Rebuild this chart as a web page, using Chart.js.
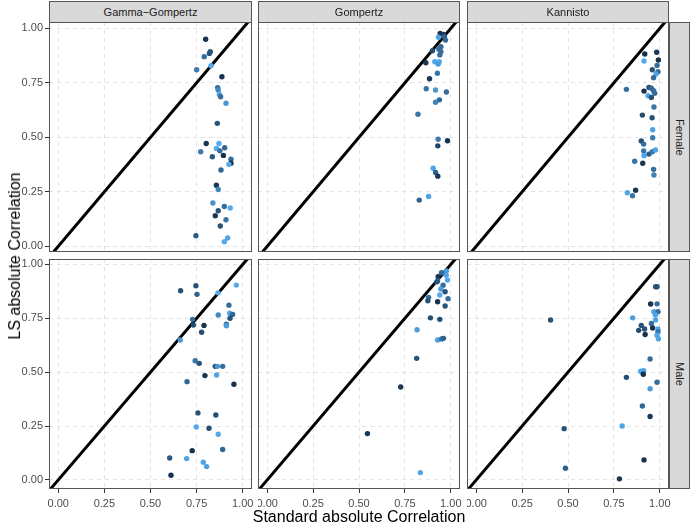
<!DOCTYPE html>
<html>
<head>
<meta charset="utf-8">
<script src="https://cdn.jsdelivr.net/npm/chart.js@4/dist/chart.umd.min.js"></script>
<style>
  html, body { margin: 0; padding: 0; background: #fff; }
  #wrap { position: relative; width: 690px; height: 528px; overflow: hidden;
          font-family: "Liberation Sans", Arial, sans-serif; }
  canvas { position: absolute; }
  .strip { position: absolute; background: #d9d9d9; border: 1px solid #555; box-sizing: border-box;
           color: #1a1a1a; font-size: 11px; display: flex; align-items: center; justify-content: center; }
  .strip.v span { writing-mode: vertical-rl; }
  .title { position: absolute; color: #000; font-size: 16px; white-space: nowrap; line-height: 1; }
</style>
</head>
<body>
<div id="wrap"></div>
<script>
// facet labels
const models = ['Gamma\u2212Gompertz', 'Gompertz', 'Kannisto'];
const sexes = ['Female', 'Male'];
const tickVals = [0, 0.25, 0.5, 0.75, 1];
const diagonal = [-0.1, 1.1];

// Gamma-Gompertz / Female
const ggFemaleX = [0.799,0.824,0.819,0.791,0.828,0.750,0.887,0.864,0.867,0.873,0.880,0.909,0.862,0.802,0.871,0.772,0.857,0.902,0.876,0.835,0.895,0.936,0.936,0.925,0.882,0.857,0.867,0.838,0.900,0.932,0.867,0.851,0.909,0.878,0.746,0.918,0.900];
const ggFemaleY = [0.950,0.893,0.885,0.870,0.828,0.810,0.778,0.728,0.717,0.697,0.686,0.656,0.564,0.472,0.472,0.434,0.449,0.452,0.438,0.411,0.417,0.400,0.381,0.376,0.350,0.280,0.261,0.199,0.183,0.176,0.163,0.140,0.122,0.093,0.049,0.038,0.021];
const ggFemaleC = [0.05,0.3,0.3,0.5,0.95,0.6,0.05,0.5,0.7,0.9,0.5,0.8,0.3,0.1,0.95,0.6,0.95,0.45,0.5,0.35,0.05,0.5,0.05,0.95,0.45,0.1,0.7,0.75,0.5,0.95,0.3,0.1,0.55,0.3,0.35,0.9,0.95];

// Gompertz / Female
const gomFemaleX = [0.942,0.960,0.933,0.965,0.971,0.946,0.935,0.900,0.946,0.940,0.864,0.913,0.937,0.931,0.927,0.884,0.866,0.917,0.976,0.938,0.917,0.821,0.931,0.982,0.929,0.904,0.917,0.929,0.879,0.828];
const gomFemaleY = [0.977,0.972,0.959,0.961,0.946,0.916,0.904,0.897,0.893,0.878,0.842,0.847,0.847,0.836,0.794,0.769,0.723,0.717,0.708,0.672,0.661,0.606,0.491,0.484,0.461,0.358,0.339,0.322,0.229,0.212];
const gomFemaleC = [0.05,0.1,0.9,0.4,0.45,0.45,0.5,0.25,0.5,0.5,0.1,0.9,0.95,0.85,0.55,0.1,0.55,0.8,0.5,0.45,0.65,0.55,0.6,0.05,0.2,0.9,0.4,0.1,0.9,0.4];

// Kannisto / Female
const kanFemaleX = [0.983,0.918,0.992,0.914,0.985,0.959,0.990,0.979,0.966,0.818,0.941,0.914,0.954,0.966,0.972,0.936,0.954,0.968,0.905,0.958,0.961,0.961,0.899,0.912,0.912,0.914,0.941,0.959,0.976,0.863,0.907,0.966,0.968,0.868,0.823,0.851];
const kanFemaleY = [0.890,0.882,0.855,0.850,0.830,0.810,0.801,0.790,0.773,0.720,0.729,0.712,0.725,0.714,0.702,0.691,0.683,0.639,0.602,0.590,0.535,0.498,0.483,0.469,0.437,0.416,0.423,0.434,0.442,0.390,0.381,0.353,0.327,0.257,0.246,0.232];
const kanFemaleC = [0.1,0.05,0.05,0.95,0.5,0.3,0.5,0.9,0.5,0.5,0.25,0.05,0.45,0.5,0.5,0.9,0.3,0.55,0.25,0.3,0.9,0.6,0.25,0.5,0.55,0.9,0.35,0.55,0.9,0.55,0.1,0.5,0.65,0.1,0.9,0.55];

// Gamma-Gompertz / Male
const ggMaleX = [0.663,0.746,0.752,0.866,0.965,0.925,0.867,0.929,0.945,0.931,0.911,0.911,0.728,0.732,0.790,0.777,0.661,0.742,0.764,0.851,0.862,0.891,0.858,0.795,0.698,0.952,0.757,0.854,0.748,0.817,0.867,0.726,0.891,0.604,0.696,0.786,0.804,0.611];
const ggMaleY = [0.878,0.901,0.861,0.868,0.904,0.811,0.765,0.773,0.768,0.750,0.723,0.715,0.745,0.719,0.717,0.685,0.649,0.553,0.541,0.527,0.527,0.527,0.487,0.484,0.456,0.444,0.311,0.301,0.246,0.240,0.212,0.136,0.141,0.102,0.099,0.082,0.062,0.022];
const ggMaleC = [0.3,0.3,0.4,0.95,0.95,0.5,0.7,0.9,0.45,0.3,0.5,0.85,0.5,0.25,0.05,0.25,0.8,0.55,0.3,0.25,0.8,0.5,0.9,0.05,0.45,0.05,0.3,0.25,0.95,0.25,0.95,0.05,0.45,0.35,0.9,0.9,0.85,0.05];

// Gompertz / Male
const gomMaleX = [0.976,0.949,0.931,0.975,0.982,0.928,0.924,0.958,0.946,0.969,0.940,0.879,0.875,0.928,0.985,0.969,0.889,0.940,0.816,0.928,0.949,0.960,0.814,0.727,0.546,0.834];
const gomMaleY = [0.970,0.961,0.943,0.950,0.927,0.923,0.919,0.903,0.886,0.873,0.858,0.847,0.831,0.827,0.841,0.807,0.752,0.745,0.697,0.649,0.654,0.657,0.564,0.431,0.215,0.034];
const gomMaleC = [0.85,0.5,0.05,0.9,0.9,0.5,0.3,0.5,0.85,0.3,0.95,0.5,0.3,0.05,0.5,0.3,0.25,0.25,0.85,0.9,0.6,0.4,0.3,0.1,0.1,0.9];

// Kannisto / Male
const kanMaleX = [0.977,0.985,0.950,0.985,0.968,0.990,0.976,0.405,0.852,0.977,0.954,0.899,0.961,0.917,0.885,0.990,0.990,0.920,0.985,0.992,0.947,0.896,0.912,0.910,0.818,0.985,0.947,0.905,0.947,0.795,0.479,0.914,0.486,0.780];
const kanMaleY = [0.896,0.896,0.816,0.817,0.780,0.780,0.765,0.742,0.752,0.742,0.726,0.717,0.705,0.700,0.694,0.701,0.688,0.675,0.671,0.655,0.561,0.504,0.507,0.490,0.476,0.453,0.423,0.343,0.294,0.250,0.238,0.093,0.054,0.005];
const kanMaleC = [0.3,0.3,0.05,0.5,0.9,0.5,0.9,0.3,0.85,0.9,0.5,0.3,0.05,0.3,0.25,0.95,0.55,0.05,0.9,0.9,0.5,0.9,0.9,0.05,0.25,0.5,0.85,0.45,0.1,0.9,0.3,0.05,0.4,0.1];

// layout (px)
const FONT = '"Liberation Sans", Arial, sans-serif';
const COL_L = [49, 258, 467];
const COL_W = [203, 202, 202];
const ROW_T = [22, 259];
const ROW_H = [230, 230];
const AXIS_W = 49, AXIS_H = 26, PAD_T = 6, PAD_R = 14;
const X_RANGE = [-0.05, 1.05];
const Y_RANGE = [[-0.026, 1.029], [-0.042, 1.025]];

// ggplot default continuous gradient
const LOW = [0x13, 0x2B, 0x43], HIGH = [0x56, 0xB1, 0xF7];
function shadeColor(t) {
  return 'rgb(' + LOW.map((l, i) => Math.round(l + (HIGH[i] - l) * t)).join(',') + ')';
}

const wrap = document.getElementById('wrap');

const frame = {
  id: 'frame',
  afterDatasetsDraw(chart) {
    const { ctx, chartArea: a } = chart;
    ctx.save();
    ctx.strokeStyle = '#555';
    ctx.lineWidth = 1;
    ctx.strokeRect(a.left + 0.5, a.top + 0.5, a.right - a.left - 1, a.bottom - a.top - 1);
    ctx.restore();
  }
};

function axis(range, show, dir) {
  return {
    type: 'linear', min: range[0], max: range[1],
    afterBuildTicks: s => { s.ticks = tickVals.map(v => ({ value: v })); },
    afterFit: s => {
      if (dir === 'x') s.height = show ? AXIS_H : 0;
      else s.width = show ? AXIS_W : 0;
      s.paddingLeft = s.paddingRight = s.paddingTop = s.paddingBottom = 0;
    },
    grid: { color: '#e3e3e3', lineWidth: 1, drawTicks: show, tickLength: 4, tickColor: '#333', tickWidth: 1,
            borderDash: [4, 4] },
    border: { display: false, dash: [4, 4] },
    ticks: { display: show, padding: dir === 'x' ? 4 : 2, color: '#4d4d4d', font: { family: FONT, size: 11 },
             callback: v => v.toFixed(2), maxRotation: 0, autoSkip: false }
  };
}

function panel(r, c, xs, ys, cs) {
  const cv = document.createElement('canvas');
  const left = COL_L[c] - (c === 0 ? AXIS_W : 0);
  const top = ROW_T[r] - PAD_T;
  const w = COL_W[c] + (c === 0 ? AXIS_W : 0) + PAD_R;
  const h = ROW_H[r] + PAD_T + (r === 1 ? AXIS_H : 0);
  cv.width = w; cv.height = h;
  cv.style.left = left + 'px'; cv.style.top = top + 'px';
  cv.style.width = w + 'px'; cv.style.height = h + 'px';
  wrap.appendChild(cv);

  new Chart(cv, {
    type: 'scatter',
    data: {
      datasets: [
        { data: xs.map((x, i) => ({ x, y: ys[i] })), backgroundColor: cs.map(shadeColor),
          pointRadius: 2.7, pointHoverRadius: 2.7, borderWidth: 0 },
        { type: 'line', data: diagonal.map(v => ({ x: v, y: v })), borderColor: '#000', borderWidth: 3,
          pointRadius: 0, clip: 0 }
      ]
    },
    options: {
      responsive: false, animation: false, devicePixelRatio: 1, events: [],
      layout: { padding: { top: PAD_T, right: PAD_R, left: 0, bottom: 0 }, autoPadding: false },
      plugins: { legend: { display: false }, tooltip: { enabled: false } },
      scales: {
        x: axis(X_RANGE, r === 1, 'x'),
        y: axis(Y_RANGE[r], c === 0, 'y')
      }
    },
    plugins: [frame]
  });
}

panel(0, 0, ggFemaleX, ggFemaleY, ggFemaleC);
panel(0, 1, gomFemaleX, gomFemaleY, gomFemaleC);
panel(0, 2, kanFemaleX, kanFemaleY, kanFemaleC);
panel(1, 0, ggMaleX, ggMaleY, ggMaleC);
panel(1, 1, gomMaleX, gomMaleY, gomMaleC);
panel(1, 2, kanMaleX, kanMaleY, kanMaleC);

// strips
models.forEach((m, c) => {
  const d = document.createElement('div');
  d.className = 'strip';
  Object.assign(d.style, { left: COL_L[c] + 'px', top: '1px', width: COL_W[c] + 'px', height: '22px' });
  d.textContent = m;
  wrap.appendChild(d);
});
sexes.forEach((s, r) => {
  const d = document.createElement('div');
  d.className = 'strip v';
  Object.assign(d.style, { left: '669px', top: ROW_T[r] + 'px', width: '21px', height: ROW_H[r] + 'px' });
  d.innerHTML = '<span>' + s + '</span>';
  wrap.appendChild(d);
});

// axis titles
const xt = document.createElement('div');
xt.className = 'title';
xt.textContent = 'Standard absolute Correlation';
Object.assign(xt.style, { left: '359px', top: '517px', transform: 'translate(-50%,-50%)' });
wrap.appendChild(xt);

const yt = document.createElement('div');
yt.className = 'title';
yt.textContent = 'LS absolute Correlation';
Object.assign(yt.style, { left: '15px', top: '256px', transform: 'translate(-50%,-50%) rotate(-90deg)' });
wrap.appendChild(yt);
</script>
</body>
</html>
